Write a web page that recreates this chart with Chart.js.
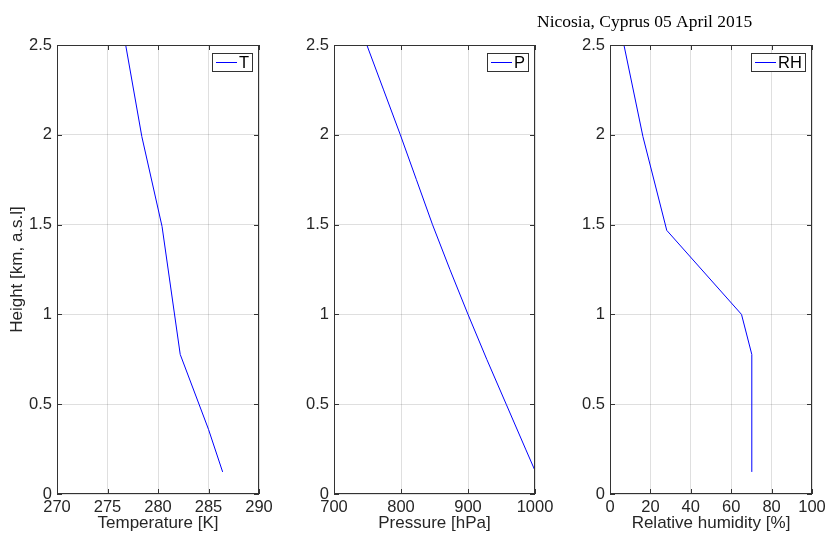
<!DOCTYPE html>
<html>
<head>
<meta charset="utf-8">
<script src="https://cdn.jsdelivr.net/npm/chart.js@4.4.0/dist/chart.umd.min.js"></script>
<style>
  body { margin: 0; background: #fff; }
  #wrap { position: relative; width: 827px; height: 533px; }
  #wrap canvas { position: absolute; left: 0; top: 0; }
</style>
</head>
<body>
<div id="wrap">
  <canvas id="c1" width="827" height="533"></canvas>
  <canvas id="c2" width="827" height="533"></canvas>
  <canvas id="c3" width="827" height="533"></canvas>
</div>
<script>
// temperature profile
const tempHeight = [0.123, 0.36, 0.777, 1.49, 1.99, 2.5];
const tempValue = [286.4, 285.0, 282.2, 280.4, 278.4, 276.8];

// pressure profile
const presHeight = [0.13, 0.25, 0.5, 0.75, 1.0, 1.25, 1.5, 1.75, 2.0, 2.25, 2.5];
const presValue = [1000, 986, 957, 928, 900, 873, 847, 823, 799, 774, 749];

// relative humidity profile
const rhHeight = [0.123, 0.777, 1.0, 1.468, 1.99, 2.5];
const rhValue = [70.2, 70.2, 65.1, 28.1, 16.3, 6.9];

const heightTicks = [0, 0.5, 1, 1.5, 2, 2.5];
const titleText = 'Nicosia, Cyprus 05 April 2015';

const axisColor = '#333333';
const textColor = '#262626';
const gridColor = 'rgba(38,38,38,0.15)';
const sansFont = '"Liberation Sans", Arial, Helvetica, sans-serif';

// box around the axes, inward ticks, legend inside the top right corner
const framePlugin = {
  id: 'frame',
  afterDraw(chart, args, opts) {
    const {ctx, chartArea: a, scales} = chart;
    ctx.save();
    ctx.strokeStyle = axisColor;
    ctx.lineWidth = 1;
    ctx.beginPath();
    scales.x.ticks.forEach((t) => {
      const px = Math.round(scales.x.getPixelForValue(t.value)) + 0.5;
      ctx.moveTo(px, a.bottom);
      ctx.lineTo(px, a.bottom - 5);
      ctx.moveTo(px, a.top);
      ctx.lineTo(px, a.top + 5);
    });
    scales.y.ticks.forEach((t) => {
      const py = Math.round(scales.y.getPixelForValue(t.value)) + 0.5;
      ctx.moveTo(a.left, py);
      ctx.lineTo(a.left + 5, py);
      ctx.moveTo(a.right, py);
      ctx.lineTo(a.right - 5, py);
    });
    ctx.stroke();
    ctx.strokeRect(a.left + 0.5, a.top + 0.5, a.right - a.left - 1, a.bottom - a.top - 1);

    // legend
    const label = chart.data.datasets[0].label;
    ctx.font = '16.5px ' + sansFont;
    const tw = ctx.measureText(label).width;
    const bw = Math.round(4 + 21 + 2 + tw + 3);
    const bh = 18;
    const bx = Math.round(a.right - 7 - bw);
    const by = Math.round(a.top + 8);
    ctx.fillStyle = '#fff';
    ctx.fillRect(bx, by, bw, bh);
    ctx.strokeStyle = axisColor;
    ctx.strokeRect(bx + 0.5, by + 0.5, bw, bh);
    ctx.strokeStyle = chart.data.datasets[0].borderColor;
    ctx.beginPath();
    ctx.moveTo(bx + 4, by + 9.5);
    ctx.lineTo(bx + 25, by + 9.5);
    ctx.stroke();
    ctx.fillStyle = '#000';
    ctx.textBaseline = 'middle';
    ctx.textAlign = 'left';
    ctx.fillText(label, bx + 27, by + 10);

    if (opts.title) {
      ctx.font = '17.5px "Liberation Serif", "Times New Roman", serif';
      ctx.textBaseline = 'alphabetic';
      ctx.fillStyle = '#000';
      ctx.fillText(opts.title, 537, 27);
    }
    ctx.restore();
  }
};

const makeChart = (id, cfg) => {
  const points = cfg.values.map((v, i) => ({x: v, y: cfg.heights[i]}));
  return new Chart(document.getElementById(id), {
    type: 'scatter',
    data: {
      datasets: [{
        label: cfg.label,
        data: points,
        showLine: true,
        borderColor: '#0000ff',
        borderWidth: 1,
        pointRadius: 0,
        fill: false,
      }]
    },
    options: {
      responsive: false,
      animation: false,
      events: [],
      layout: {padding: {left: cfg.padLeft, right: cfg.padRight, top: 45, bottom: 0}},
      plugins: {
        legend: {display: false},
        tooltip: {enabled: false},
        frame: {title: cfg.title || null},
      },
      scales: {
        x: {
          type: 'linear',
          min: cfg.min,
          max: cfg.max,
          ticks: {
            stepSize: cfg.step,
            color: textColor,
            font: {family: sansFont, size: 16.5},
            padding: 4,
            maxRotation: 0,
            autoSkip: false,
            callback: (v) => String(v),
          },
          grid: {color: gridColor, drawTicks: false},
          border: {display: false},
          title: {
            display: true,
            text: cfg.xTitle,
            color: textColor,
            font: {family: sansFont, size: 17, lineHeight: 1.1},
            padding: {top: 0, bottom: 0},
          },
          afterFit: (s) => {
            s.height = 39;
            s.paddingLeft = 0;
            s.paddingRight = 0;
          },
        },
        y: {
          type: 'linear',
          min: 0,
          max: 2.5,
          afterBuildTicks: (s) => { s.ticks = heightTicks.map((v) => ({value: v})); },
          ticks: {
            color: textColor,
            font: {family: sansFont, size: 16.5},
            padding: 5,
            callback: (v) => String(v),
          },
          grid: {color: gridColor, drawTicks: false},
          border: {display: false},
          title: {
            display: !!cfg.yTitle,
            text: cfg.yTitle || '',
            color: textColor,
            font: {family: sansFont, size: 17},
            padding: {top: 7, bottom: 0},
          },
          afterFit: (s) => {
            s.width = cfg.yWidth;
            s.paddingTop = 0;
            s.paddingBottom = 0;
          },
        }
      }
    },
    plugins: [framePlugin]
  });
};

makeChart('c1', {
  label: 'T', values: tempValue, heights: tempHeight,
  min: 270, max: 290, step: 5, xTitle: 'Temperature [K]',
  yTitle: 'Height [km, a.s.l]', yWidth: 57, padLeft: 0, padRight: 827 - 259,
});
makeChart('c2', {
  label: 'P', values: presValue, heights: presHeight,
  min: 700, max: 1000, step: 100, xTitle: 'Pressure [hPa]',
  yWidth: 40, padLeft: 334 - 40, padRight: 827 - 535,
});
makeChart('c3', {
  label: 'RH', values: rhValue, heights: rhHeight,
  min: 0, max: 100, step: 20, xTitle: 'Relative humidity [%]',
  yWidth: 40, padLeft: 610 - 40, padRight: 827 - 812, title: titleText,
});
</script>
</body>
</html>
